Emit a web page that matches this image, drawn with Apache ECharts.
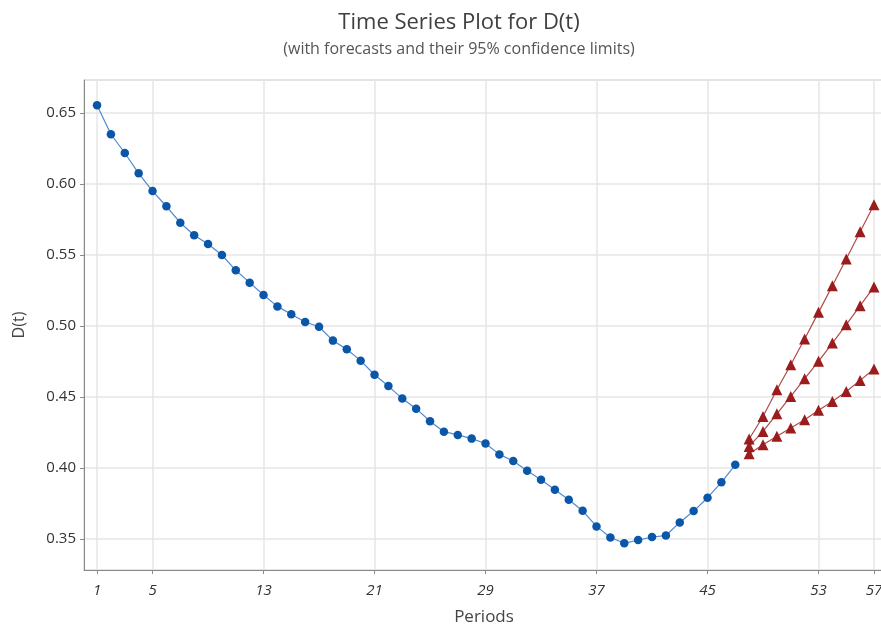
<!DOCTYPE html>
<html>
<head>
<meta charset="utf-8">
<script src="https://cdn.jsdelivr.net/npm/echarts@6/dist/echarts.min.js"></script>
<style>
  html, body { margin: 0; padding: 0; background: #fff; }
  #chart { width: 881px; height: 629px; }
</style>
</head>
<body>
<div id="chart"></div>
<script>
// observed D(t), periods 1..47
var observed = [
  0.6554, 0.6350, 0.6218, 0.6075, 0.5950, 0.5843, 0.5727, 0.5639, 0.5577, 0.5500,
  0.5392, 0.5305, 0.5218, 0.5138, 0.5082, 0.5028, 0.4995, 0.4897, 0.4836, 0.4756,
  0.4657, 0.4577, 0.4489, 0.4418, 0.4329, 0.4256, 0.4233, 0.4207, 0.4173, 0.4096,
  0.4049, 0.3980, 0.3918, 0.3847, 0.3777, 0.3699, 0.3589, 0.3511, 0.3470, 0.3493,
  0.3514, 0.3525, 0.3617, 0.3697, 0.3791, 0.3899, 0.4023
]
var firstPeriod = 1

// forecasts, periods 48..57
var forecastStart = 48
var upperLimit = [0.4204, 0.4363, 0.4551, 0.4727, 0.4908, 0.5096, 0.5284, 0.5472, 0.5664, 0.5854]
var forecast = [0.4152, 0.4258, 0.4382, 0.4504, 0.4629, 0.4751, 0.4880, 0.5009, 0.5143, 0.5275]
var lowerLimit = [0.4101, 0.4164, 0.4223, 0.4282, 0.4340, 0.4406, 0.4469, 0.4539, 0.4617, 0.4697]

var xTicks = [1, 5, 13, 21, 29, 37, 45, 53, 57]
var yTicks = [0.35, 0.40, 0.45, 0.50, 0.55, 0.60, 0.65]

function pairs(values, start) {
  return values.map(function (v, i) { return [start + i, v] })
}

var font = 'Open Sans'
var blue = '#0a56a8'
var red = '#9b1c1c'

function forecastSeries(name, values) {
  return {
    name: name,
    type: 'line',
    data: pairs(values, forecastStart),
    symbol: 'triangle',
    symbolSize: 11,
    itemStyle: { color: red },
    lineStyle: { color: '#b04a4a', width: 1.2 },
    animation: false
  }
}

var chart = echarts.init(document.getElementById('chart'))
chart.setOption({
  backgroundColor: '#fff',
  title: {
    text: 'Time Series Plot for D(t)',
    subtext: '(with forecasts and their 95% confidence limits)',
    left: 454,
    top: 7,
    textAlign: 'center',
    itemGap: 7,
    textStyle: { fontFamily: font, fontSize: 22, fontWeight: 'normal', color: '#404040' },
    subtextStyle: { fontFamily: font, fontSize: 16, color: '#555' }
  },
  grid: {
    left: 84,
    right: -3,
    top: 80,
    bottom: 59,
    containLabel: false,
    outerBoundsMode: 'none',
    show: true,
    borderColor: '#c8c8c8',
    borderWidth: 1
  },
  xAxis: {
    type: 'value',
    min: 0.06,
    max: 57.72,
    name: 'Periods',
    nameLocation: 'middle',
    nameGap: 39,
    nameTextStyle: { fontFamily: font, fontSize: 17, color: '#444' },
    axisLine: { show: true, lineStyle: { color: '#8a8a8a' } },
    axisTick: { show: true, customValues: xTicks, length: 4, lineStyle: { color: '#8a8a8a' } },
    axisLabel: {
      customValues: xTicks,
      fontFamily: font,
      fontStyle: 'italic',
      fontSize: 15,
      color: '#333',
      margin: 13
    },
    splitLine: { show: true, lineStyle: { color: '#e6e6e6', width: 1.5 } }
  },
  yAxis: {
    type: 'value',
    min: 0.3282,
    max: 0.6732,
    name: 'D(t)',
    nameLocation: 'middle',
    nameGap: 57,
    nameTextStyle: { fontFamily: font, fontSize: 16, color: '#444' },
    axisLine: { show: true, lineStyle: { color: '#8a8a8a' } },
    axisTick: { show: true, customValues: yTicks, length: 4, lineStyle: { color: '#8a8a8a' } },
    axisLabel: {
      customValues: yTicks,
      fontFamily: font,
      fontSize: 15,
      color: '#333',
      margin: 8,
      formatter: function (v) { return v.toFixed(2) }
    },
    splitLine: { show: true, lineStyle: { color: '#e6e6e6', width: 1.5 } }
  },
  series: [
    {
      name: 'D(t)',
      type: 'line',
      data: pairs(observed, firstPeriod),
      symbol: 'circle',
      symbolSize: 8.5,
      itemStyle: { color: blue },
      lineStyle: { color: '#4f8bd0', width: 1.2 },
      animation: false
    },
    forecastSeries('Upper', upperLimit),
    forecastSeries('Forecast', forecast),
    forecastSeries('Lower', lowerLimit)
  ]
})
</script>
</body>
</html>
